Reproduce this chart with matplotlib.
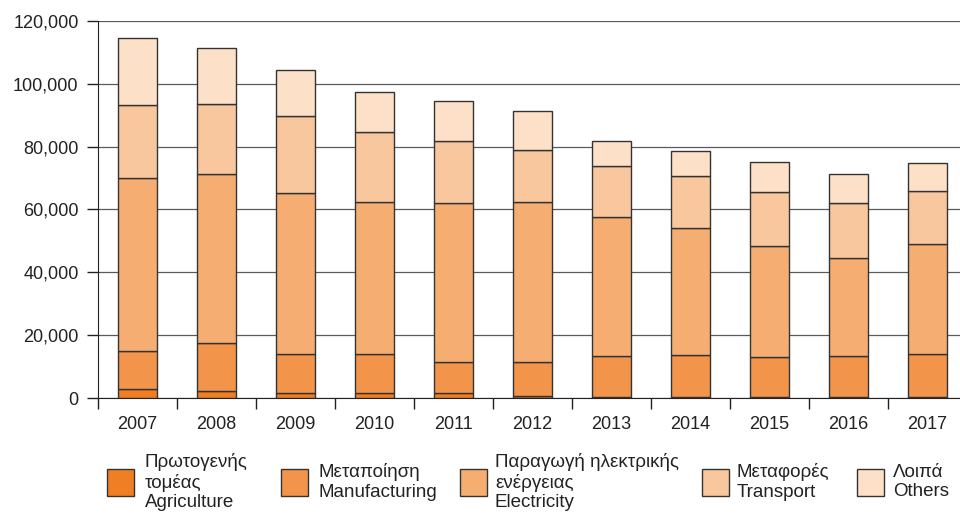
import numpy as np
import matplotlib.pyplot as plt
from matplotlib.patches import Rectangle
from matplotlib.ticker import FuncFormatter

plt.rcParams["font.family"] = ["Liberation Sans", "DejaVu Sans"]

# Data
years = ["2007", "2008", "2009", "2010", "2011", "2012",
         "2013", "2014", "2015", "2016", "2017"]
agriculture = [3000, 2400, 1800, 1600, 1600, 800, 500, 500, 400, 400, 400]
manufacturing = [12000, 15200, 12400, 12600, 9900, 10700, 12800, 13300, 12700, 12900, 13600]
electricity = [54900, 53800, 50900, 48300, 50500, 50900, 44300, 40400, 35400, 31400, 35000]
transport = [23400, 22200, 24700, 22100, 19900, 16400, 16100, 16300, 17000, 17400, 16800]
others = [21100, 17600, 14500, 12800, 12700, 12600, 8000, 8200, 9500, 9300, 9000]

series = [agriculture, manufacturing, electricity, transport, others]
labels = [
    "Πρωτογενής\nτομέας\nAgriculture",
    "Μεταποίηση\nManufacturing",
    "Παραγωγή ηλεκτρικής\nενέργειας\nElectricity",
    "Μεταφορές\nTransport",
    "Λοιπά\nOthers",
]
colors = ["#F07F24", "#F2944A", "#F5AD72", "#F9C79D", "#FDE0C8"]
EDGE = "#333333"
TXT = "#222222"

W, H = 960, 513
fig = plt.figure(figsize=(W / 100, H / 100), dpi=100)
ax = fig.add_axes([98 / W, 1 - 398.3 / H, 1 - 98 / W, (398.3 - 20.7) / H])

x = np.arange(len(years))
bottom = np.zeros(len(years))
for vals, col in zip(series, colors):
    ax.bar(x, vals, width=0.5, bottom=bottom, color=col,
           edgecolor=EDGE, linewidth=1.0, zorder=3)
    bottom += np.array(vals)

ax.set_xlim(-0.5, 10.41)
ax.set_ylim(0, 120000)
ax.set_yticks(np.arange(0, 120001, 20000))
ax.yaxis.set_major_formatter(FuncFormatter(lambda v, p: f"{int(v):,}"))
ax.grid(axis="y", color="#5a5a5a", linewidth=0.9, zorder=0)

# x ticks sit between categories, labels centered under bars
ax.set_xticks(np.arange(-0.5, 10.5, 1.0))
ax.set_xticklabels([])
ax.set_xticks(x, minor=True)
ax.set_xticklabels(years, minor=True)
ax.tick_params(axis="x", which="major", length=8, width=1, color=TXT)
ax.tick_params(axis="x", which="minor", length=0, pad=13,
               labelsize=13, labelcolor=TXT)
ax.tick_params(axis="y", length=8, width=1, color=TXT,
               labelsize=13, labelcolor=TXT, pad=6)

for side in ["top", "right"]:
    ax.spines[side].set_visible(False)
ax.spines["left"].set_color(TXT)
ax.spines["bottom"].set_color(TXT)
ax.spines["left"].set_bounds(0, 120000)

# Legend drawn manually underneath the plot
patch_x = [107, 281, 460, 702, 857]
text_x = [145, 318, 495, 737, 893]
for px, tx, col, lab in zip(patch_x, text_x, colors, labels):
    fig.patches.append(Rectangle((px / W, 1 - 496 / H), 27 / W, 27 / H,
                                 transform=fig.transFigure, facecolor=col,
                                 edgecolor=EDGE, linewidth=1.0))
    fig.text(tx / W, 1 - 482 / H, lab, ha="left", va="center",
             fontsize=13.5, color=TXT, linespacing=1.2)

fig.savefig("out.png", dpi=100)
